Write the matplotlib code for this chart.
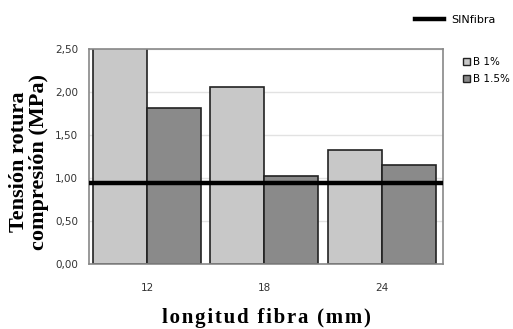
import numpy as np
import matplotlib.pyplot as plt
from matplotlib.patches import Patch
from matplotlib.lines import Line2D
from matplotlib.ticker import FuncFormatter

# fibre length categories and compressive strength (MPa)
lengths = ["12", "18", "24"]
b1 = [2.62, 2.06, 1.33]
b15 = [1.82, 1.03, 1.15]
sin_fibra = 0.945


def spaced(s):
    # loosen letter spacing with hair spaces
    return "\u200a".join(s)


fig = plt.figure(figsize=(5.13, 3.29), dpi=100)
ax = fig.add_axes([0.1735, 0.1976, 0.69, 0.652])

x = np.arange(len(lengths))
w = 0.46
ax.bar(x - w / 2, b1, w, color="#c8c8c8", edgecolor="#222222", linewidth=1.2, zorder=2)
ax.bar(x + w / 2, b15, w, color="#8a8a8a", edgecolor="#222222", linewidth=1.2, zorder=2)
ax.axhline(sin_fibra, color="black", linewidth=3.2, zorder=3)

ax.set_xlim(-0.494, 2.52)
ax.set_ylim(0, 2.5)
ax.set_yticks(np.arange(0, 2.51, 0.5))
ax.yaxis.set_major_formatter(FuncFormatter(lambda v, p: f"{v:.2f}".replace(".", ",")))
ax.set_xticks(x)
ax.set_xticklabels(lengths)
ax.tick_params(axis="both", labelsize=7.5, colors="#333333", length=0)
ax.tick_params(axis="x", pad=14)
ax.tick_params(axis="y", pad=8)
ax.grid(axis="y", color="#e2e2e2", linewidth=1, zorder=0)
for s in ax.spines.values():
    s.set_color("#888888")
    s.set_linewidth(1.2)

serif = ["Liberation Serif", "DejaVu Serif"]
fig.text(0.056, 0.507, "Tensión rotura\ncompresión (MPa)", rotation=90,
         ha="center", va="center", fontsize=16, fontweight="bold",
         family=serif, linespacing=1.0)
fig.text(0.519, 0.018, spaced("longitud fibra (mm)"), ha="center", va="baseline",
         fontsize=15, fontweight="bold", family=serif)

# legends
fig.legend(handles=[Line2D([0], [0], color="black", linewidth=3.2)], labels=["SINfibra"],
           loc="center left", bbox_to_anchor=(0.79, 0.94), frameon=False,
           fontsize=8, handlelength=2.6, handletextpad=0.6)
fig.legend(handles=[Patch(facecolor="#c8c8c8", edgecolor="#222222"),
                    Patch(facecolor="#8a8a8a", edgecolor="#222222")],
           labels=["B 1%", "B 1.5%"], loc="upper left", bbox_to_anchor=(0.885, 0.855),
           frameon=False, fontsize=7.5, handlelength=0.6, handleheight=0.6,
           handletextpad=0.3, labelspacing=0.7)

fig.savefig("out.png", dpi=100)
